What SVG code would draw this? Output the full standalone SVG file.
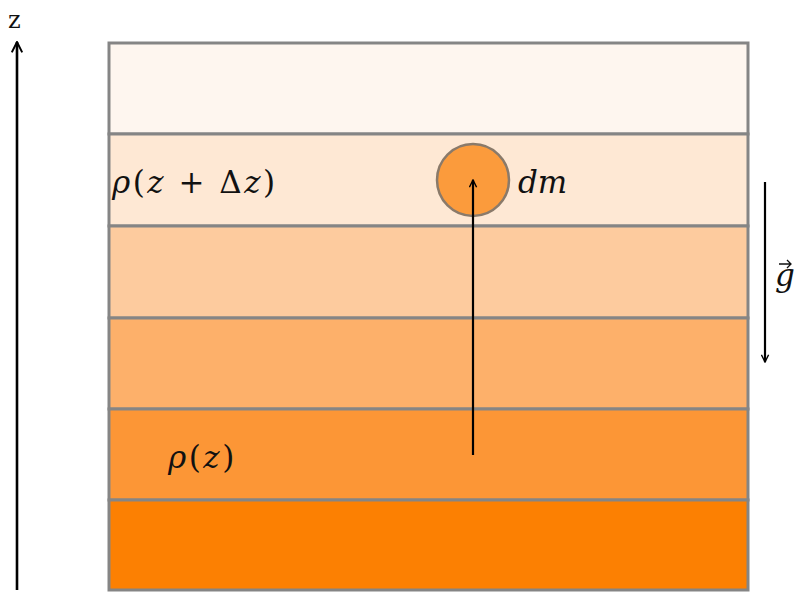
<svg xmlns="http://www.w3.org/2000/svg" width="794" height="593" viewBox="0 0 794 593">
<style>
.band{stroke:#858585;stroke-width:3}
.ln{stroke:#000;stroke-width:2.2;fill:none}
.m{font-family:"DejaVu Serif","Liberation Serif",serif;font-size:31px;fill:#111}
.i{font-style:italic}
.sp{letter-spacing:2.5px}
</style>
<defs>
<marker id="ah" viewBox="0 0 10 10" refX="9" refY="5" markerWidth="9" markerHeight="9" markerUnits="userSpaceOnUse" orient="auto">
<path d="M1,1 L9,5 L1,9" fill="none" stroke="#000" stroke-width="1.6"/>
</marker>
<marker id="ah2" viewBox="0 0 10 10" refX="9" refY="5" markerWidth="13" markerHeight="13" markerUnits="userSpaceOnUse" orient="auto">
<path d="M1,1 L9,5 L1,9" fill="none" stroke="#000" stroke-width="1.5"/>
</marker>
</defs>
<rect width="794" height="593" fill="#fff"/>
<g id="layers">
<rect id="layer1" class="band" x="109" y="43" width="639" height="91" fill="#fef6ef"/>
<rect id="layer2" class="band" x="109" y="134" width="639" height="92" fill="#fee8d4"/>
<rect id="layer3" class="band" x="109" y="226" width="639" height="92" fill="#fdcb9e"/>
<rect id="layer4" class="band" x="109" y="318" width="639" height="91" fill="#fdb06a"/>
<rect id="layer5" class="band" x="109" y="409" width="639" height="91" fill="#fc9636"/>
<rect id="layer6" class="band" x="109" y="500" width="639" height="90" fill="#fc8002"/>
</g>
<g id="dm-node">
<circle cx="473" cy="180" r="36" fill="#fb9b3c" stroke="#8a7a6a" stroke-width="2.5"/>
<text class="m i" x="518" y="193">dm</text>
</g>
<g id="connectors">
<line class="ln" x1="17" y1="590" x2="17" y2="42" marker-end="url(#ah2)" style="stroke-width:2.6"/>
<line class="ln" x1="473" y1="455" x2="473" y2="180" marker-end="url(#ah)"/>
<line class="ln" x1="765" y1="182" x2="765" y2="362" marker-end="url(#ah)"/>
</g>
<g id="labels">
<text class="m" x="8" y="28" style="font-size:24px">z</text>
<text class="m sp" x="112" y="193"><tspan class="i">ρ</tspan>(<tspan class="i">z</tspan> + Δ<tspan class="i">z</tspan>)</text>
<text class="m sp" x="168" y="468"><tspan class="i">ρ</tspan>(<tspan class="i">z</tspan>)</text>
<text class="m i" x="775" y="286">g</text>
<path d="M779,264 L791,264 M787,260 L791,264 L787,268" fill="none" stroke="#111" stroke-width="1.3"/>
</g>
</svg>
